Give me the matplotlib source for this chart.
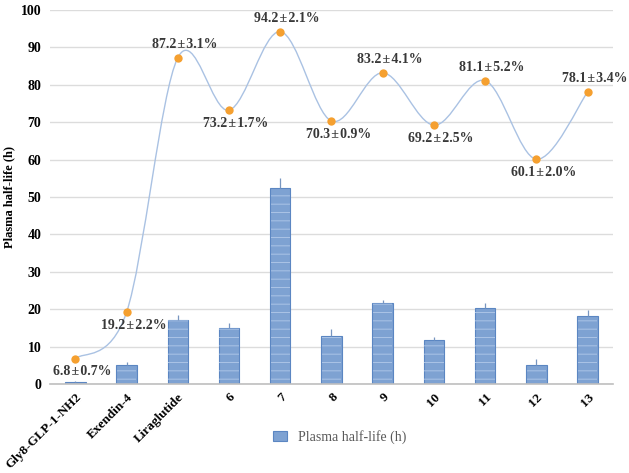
import matplotlib
matplotlib.use("Agg")
import matplotlib.pyplot as plt
from matplotlib.path import Path
from matplotlib.patches import PathPatch
import numpy as np

categories = ["Gly8-GLP-1-NH2", "Exendin-4", "Liraglutide", "6", "7", "8",
              "9", "10", "11", "12", "13"]
half_life = [0.5, 5.0, 17.0, 15.0, 52.5, 12.8, 21.7, 11.7, 20.3, 5.2, 18.2]
half_life_err = [0.3, 1.0, 1.5, 1.3, 2.5, 1.8, 0.8, 0.8, 1.3, 1.5, 1.5]
activity = [6.8, 19.2, 87.2, 73.2, 94.2, 70.3, 83.2, 69.2, 81.1, 60.1, 78.1]
activity_sd = [0.7, 2.2, 3.1, 1.7, 2.1, 0.9, 4.1, 2.5, 5.2, 2.0, 3.4]
label_above = [False, False, True, False, True, False, True, False, True, False, True]

plt.rcParams['font.family'] = ['Liberation Serif', 'DejaVu Serif']
plt.rcParams['hatch.linewidth'] = 0.7

fig = plt.figure(figsize=(6.29, 4.73), dpi=100)
ax = fig.add_axes([0.079, 0.188, 0.896, 0.791])

x = np.arange(len(categories))
bars = ax.bar(x, half_life, width=0.4, color='#7ea2d2', edgecolor='#5b86c2',
              linewidth=0.8, zorder=2, label='Plasma half-life (h)')
ax.bar(x, half_life, width=0.38, fill=False, hatch='--', edgecolor='#abc4e6',
       linewidth=0, zorder=2)
ax.errorbar(x, half_life, yerr=[[0] * len(x), half_life_err], fmt='none',
            ecolor='#7896c0', elinewidth=0.9, capsize=0, zorder=2)

# smoothed line (Excel-style bezier through the points)
pts = np.column_stack([x, activity]).astype(float)
verts = [tuple(pts[0])]
codes = [Path.MOVETO]
n = len(pts)
for i in range(n - 1):
    p0 = pts[i - 1] if i > 0 else pts[i]
    p1 = pts[i]
    p2 = pts[i + 1]
    p3 = pts[i + 2] if i + 2 < n else pts[i + 1]
    c1 = p1 + (p2 - p0) / 6.0
    c2 = p2 - (p3 - p1) / 6.0
    verts += [tuple(c1), tuple(c2), tuple(p2)]
    codes += [Path.CURVE4] * 3
ax.add_patch(PathPatch(Path(verts, codes), fill=False, edgecolor='#aac2e3',
                       linewidth=1.0, zorder=3))
ax.plot(x, activity, 'o', color='#f5a030', markersize=6, zorder=4,
        markeredgewidth=0)

for xi, v, sd, up in zip(x, activity, activity_sd, label_above):
    off = 9.5 if up else -9.5
    ax.annotate(f"{v:.1f}\u200a\u00b1\u200a{sd:.1f}%", (xi, v), xytext=(5, off),
                textcoords='offset points', ha='center', va='center',
                fontsize=10, fontweight='bold', color='#383838', zorder=5)

ax.set_xlim(-0.5, len(categories) - 0.5)
ax.set_ylim(0, 100)
ax.set_yticks(range(0, 101, 10))
ax.set_xticks(x)
ax.set_xticklabels(categories, rotation=45, ha='right', rotation_mode='anchor',
                   fontsize=9.5, fontweight='bold')
for lab in ax.get_yticklabels():
    lab.set_fontweight('bold')
    lab.set_fontsize(10)
ax.tick_params(axis='x', length=0, pad=5)
ax.tick_params(axis='y', length=0, pad=6)
ax.yaxis.grid(True, color='#dcdcdc', linewidth=1.0)
ax.set_axisbelow(True)
for s in ['top', 'right', 'left']:
    ax.spines[s].set_visible(False)
ax.spines['bottom'].set_color('#bfbfbf')
ax.spines['bottom'].set_linewidth(1.2)
ax.set_ylabel('Plasma half-life (h)', fontsize=9, fontweight='bold', labelpad=4)

fig.legend(handles=[bars], labels=['Plasma half-life (h)'],
           loc='center', bbox_to_anchor=(0.54, 0.076), frameon=False,
           fontsize=10, handlelength=1.0, handleheight=0.7,
           labelcolor='#595959')

fig.savefig('out.png', dpi=100)
